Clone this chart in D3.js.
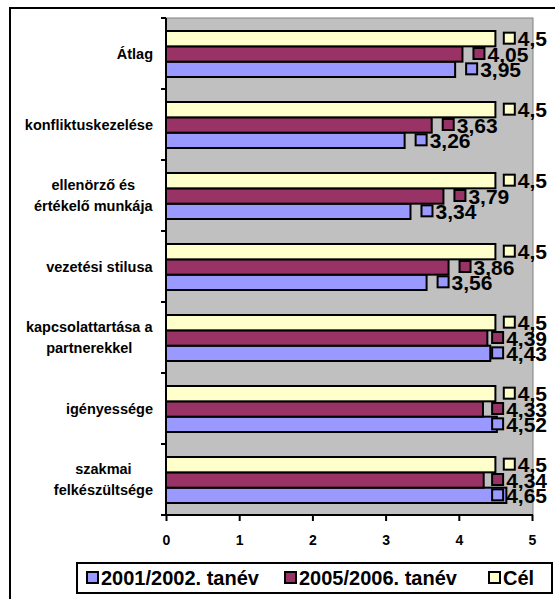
<!DOCTYPE html>
<html><head><meta charset="utf-8">
<script src="https://cdn.jsdelivr.net/npm/d3@7"></script>
<style>
html,body{margin:0;padding:0;background:#fff;}
svg{display:block;font-family:"Liberation Sans",Arial,sans-serif;font-weight:bold;}
</style></head>
<body><svg id="c" width="555" height="599"></svg>
<script>
const categories = [
  ["Átlag"],
  ["konfliktuskezelése"],
  ["ellenörző és", "értékelő munkája"],
  ["vezetési stilusa"],
  ["kapcsolattartása a", "partnerekkel"],
  ["igényessége"],
  ["szakmai", "felkészültsége"]
];
const series2001 = [3.95, 3.26, 3.34, 3.56, 4.43, 4.52, 4.65];
const series2005 = [4.05, 3.63, 3.79, 3.86, 4.39, 4.33, 4.34];
const seriesCel  = [4.5, 4.5, 4.5, 4.5, 4.5, 4.5, 4.5];
const seriesNames = ["2001/2002. tanév", "2005/2006. tanév", "Cél"];
const seriesColors = ["#9999FF", "#993366", "#FFFFCC"];
const xTicks = [0, 1, 2, 3, 4, 5];

const svg = d3.select("#c");
const catKeys = categories.map((c, i) => i);
const x = d3.scaleLinear().domain([0, 5]).range([166, 532]);
const y = d3.scaleBand().domain(catKeys).range([18, 515]).padding(0);
// within band: top = Cél, middle = 2005, bottom = 2001
const sub = d3.scaleBand().domain([2, 1, 0]).range([13, 59]).padding(0);
const allSeries = [series2001, series2005, seriesCel];

// outer frame
svg.append("rect").attr("x", 10).attr("y", 8).attr("width", 560).attr("height", 620)
  .attr("fill", "#fff").attr("stroke", "#000").attr("stroke-width", 2);

// plot area
svg.append("rect").attr("x", x(0)).attr("y", 18).attr("width", x(5) - x(0) + 1).attr("height", 497)
  .attr("fill", "#C0C0C0").attr("stroke", "#808080").attr("stroke-width", 1);

// bars
const barG = svg.append("g");
allSeries.forEach((vals, s) => {
  barG.selectAll(null).data(vals).enter().append("rect")
    .attr("x", x(0))
    .attr("y", (d, i) => y(i) + sub(s))
    .attr("width", d => x(d) - x(0))
    .attr("height", sub.bandwidth())
    .attr("fill", seriesColors[s])
    .attr("stroke", "#000").attr("stroke-width", 2);
});

// y axis
svg.append("line").attr("x1", x(0)).attr("x2", x(0)).attr("y1", 18).attr("y2", 516)
  .attr("stroke", "#000").attr("stroke-width", 2);
svg.selectAll(null).data(d3.range(categories.length + 1)).enter().append("line")
  .attr("x1", x(0) - 5).attr("x2", x(0))
  .attr("y1", i => 18 + i * y.step()).attr("y2", i => 18 + i * y.step())
  .attr("stroke", "#000").attr("stroke-width", 2);

// x axis
const xAxis = d3.axisBottom(x).tickValues(xTicks).tickSize(6).tickFormat(d3.format("d"));
const xg = svg.append("g").attr("transform", "translate(0,515)").call(xAxis);
xg.select(".domain").attr("stroke", "#000").attr("stroke-width", 2).attr("d", `M${x(0)-1},0H${x(5)+1}`);
xg.selectAll(".tick line").attr("stroke", "#000").attr("stroke-width", 2);
xg.selectAll(".tick text").attr("y", 30).attr("dy", 0).attr("fill", "#000")
  .style("font-size", "14px").style("font-weight", "bold").style("font-family", "'Liberation Sans',Arial,sans-serif");

// category labels
const lblG = svg.append("g").style("font-size", "14.5px");
categories.forEach((lines, i) => {
  const cy = y(i) + y.bandwidth() / 2;
  const lh = 21;
  const t = lblG.append("text").attr("fill", "#000");
  lines.forEach((ln, k) => {
    t.append("tspan").attr("x", 0).attr("y", cy + (k - (lines.length - 1) / 2) * lh + 5).text(ln);
  });
  const w = t.node().getBBox().width;
  t.attr("text-anchor", "middle");
  t.selectAll("tspan").attr("x", 153 - w / 2);
});

// data labels
const dlG = svg.append("g").style("font-size", "21px");
const fmt = v => String(v).replace(".", ",");
[2, 1, 0].forEach(s => {
  allSeries[s].forEach((v, i) => {
    const cy = y(i) + sub(s) + sub.bandwidth() / 2;
    const t = dlG.append("text").attr("fill", "#000").text(fmt(v)).attr("y", cy + 7.5);
    const tw = t.node().getComputedTextLength();
    const total = 12 + 2 + tw;
    const left = Math.min(x(v) + 11, 547 - total);
    dlG.append("rect").attr("x", left).attr("y", cy - 6).attr("width", 11).attr("height", 11)
      .attr("fill", seriesColors[s]).attr("stroke", "#000").attr("stroke-width", 2);
    t.attr("x", left + 14).raise();
  });
});

// legend
const lg = svg.append("g");
lg.append("rect").attr("x", 77).attr("y", 563).attr("width", 475).attr("height", 30)
  .attr("fill", "#fff").attr("stroke", "#000").attr("stroke-width", 2);
const legX = [87, 285, 489];
seriesNames.forEach((n, s) => {
  lg.append("rect").attr("x", legX[s]).attr("y", 572).attr("width", 11).attr("height", 11)
    .attr("fill", seriesColors[s]).attr("stroke", "#000").attr("stroke-width", 2);
  lg.append("text").attr("x", legX[s] + 14).attr("y", 585).style("font-size", "20px").text(n);
});
</script></body></html>
